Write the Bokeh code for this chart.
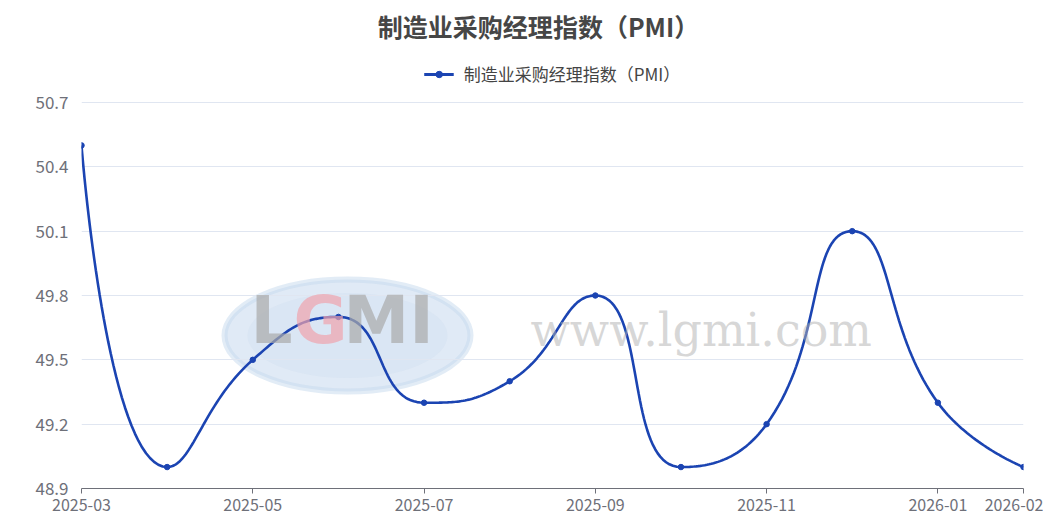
import math
from bokeh.plotting import figure
from bokeh.models import (Legend, LegendItem, FixedTicker, Range1d, Label,
                          ColumnDataSource)
from bokeh.embed import file_html
from bokeh.resources import INLINE

months = ["2025-03", "2025-04", "2025-05", "2025-06", "2025-07", "2025-08",
          "2025-09", "2025-10", "2025-11", "2025-12", "2026-01", "2026-02"]
pmi = [50.5, 49.0, 49.5, 49.7, 49.3, 49.4, 49.8, 49.0, 49.2, 50.1, 49.3, 49.0]
y_ticks = [48.9, 49.2, 49.5, 49.8, 50.1, 50.4, 50.7]
x_tick_idx = [0, 2, 4, 6, 8, 10, 11]
series_name = "制造业采购经理指数（PMI）"
title_text = "制造业采购经理指数（PMI）"

LINE = "#1b44b2"
FONT = "Noto Sans CJK SC"

W, H = 1043, 520
B_LEFT, B_RIGHT, B_BOTTOM = 81, 20, 32
TOP_GAP = 102  # pixels between canvas top and the 50.7 grid line
y0, y1 = 48.9, 50.7
frame_h = H - B_BOTTOM
r = TOP_GAP / frame_h
y_end = (y1 - r * y0) / (1 - r)

p = figure(width=W, height=H, output_backend="svg", toolbar_location=None,
           x_range=Range1d(0, len(months) - 1), y_range=Range1d(y0, y_end),
           min_border_left=B_LEFT, min_border_right=B_RIGHT, min_border_top=0,
           min_border_bottom=B_BOTTOM)
p.outline_line_color = None
p.background_fill_color = "white"

plot_w = W - B_LEFT - B_RIGHT
sx = plot_w / (len(months) - 1)
sy = frame_h / (y_end - y0)


def dx(px_):  # page pixel x -> data x
    return (px_ - B_LEFT) / sx


def dy(py_):  # page pixel y -> data y
    return y1 - (py_ - TOP_GAP) / sy


# ---- smooth curve (ECharts-like bezier smoothing, in pixel space) ----
xs = [i * sx for i in range(len(pmi))]
ys = [v * sy for v in pmi]
smooth = 0.5
cp0, cp1 = [], []
n = len(xs)
for i in range(n):
    x, y = xs[i], ys[i]
    if 0 < i < n - 1:
        px, py = xs[i - 1], ys[i - 1]
        nx, ny = xs[i + 1], ys[i + 1]
        vx = (nx - px) * smooth
        vy = (ny - py) * smooth
        lp = math.hypot(x - px, y - py)
        ln = math.hypot(nx - x, ny - y)
        rr = ln / (ln + lp)
        c1x = x + vx * rr
        c1y = y + vy * rr
        c1x = min(c1x, max(nx, x)); c1x = max(c1x, min(nx, x))
        c1y = min(c1y, max(ny, y)); c1y = max(c1y, min(ny, y))
        vx = c1x - x; vy = c1y - y
        c0x = x - vx * lp / ln
        c0y = y - vy * lp / ln
        c0x = min(c0x, max(px, x)); c0x = max(c0x, min(px, x))
        c0y = min(c0y, max(py, y)); c0y = max(c0y, min(py, y))
        vx = x - c0x; vy = y - c0y
        c1x = x + vx * ln / lp
        c1y = y + vy * ln / lp
        cp0.append((c0x, c0y)); cp1.append((c1x, c1y))
    else:
        cp0.append((x, y)); cp1.append((x, y))

bx, by = [], []
for i in range(n - 1):
    xa, ya = xs[i], ys[i]
    ax, ay = cp1[i]
    cx, cy = cp0[i + 1]
    xb, yb = xs[i + 1], ys[i + 1]
    steps = 40
    for k in range(steps + (1 if i == n - 2 else 0)):
        t = k / steps
        mt = 1 - t
        X = mt**3 * xa + 3 * mt**2 * t * ax + 3 * mt * t**2 * cx + t**3 * xb
        Y = mt**3 * ya + 3 * mt**2 * t * ay + 3 * mt * t**2 * cy + t**3 * yb
        bx.append(X / sx); by.append(Y / sy)

# ---- watermark (logo + site) ----
p.ellipse(x=[dx(347)], y=[dy(335)], width=246, height=112, width_units="screen",
          height_units="screen", fill_color="#c6d9ee", fill_alpha=0.55,
          line_color="#c6d9ee", line_alpha=0.5, line_width=6, level="underlay")
p.ellipse(x=[dx(347)], y=[dy(335)], width=200, height=85, width_units="screen",
          height_units="screen", fill_color="#d3e2f2", fill_alpha=0.5,
          line_color=None, level="underlay")
p.add_layout(Label(x=dx(250), y=dy(358), text="L", text_font="DejaVu Sans",
                   text_font_size="66px", text_font_style="bold",
                   text_color="#a9a9a9", text_alpha=0.7))
p.add_layout(Label(x=dx(293), y=dy(358), text="G", text_font="DejaVu Sans",
                   text_font_size="66px", text_font_style="bold",
                   text_color="#f0a3ad", text_alpha=0.7))
p.add_layout(Label(x=dx(343), y=dy(358), text="MI", text_font="DejaVu Sans",
                   text_font_size="66px", text_font_style="bold",
                   text_color="#a9a9a9", text_alpha=0.7))
p.add_layout(Label(x=dx(530), y=dy(356), text="www.lgmi.com", text_font="DejaVu Serif",
                   text_font_size="46px", text_color="#b0b0b0", text_alpha=0.5))

line = p.line(bx, by, line_color=LINE, line_width=2.6)
src = ColumnDataSource(dict(x=list(range(n)), y=pmi))
pts = p.scatter("x", "y", source=src, size=5.5, fill_color=LINE, line_color=LINE)
# legend-only proxies (NaN positions, never drawn in the plot area)
nan = float("nan")
legend_pt = p.scatter(x=[nan], y=[nan], size=12, fill_color=LINE, line_color=LINE)
legend_ln = p.line(x=[nan, nan], y=[nan, nan], line_color=LINE, line_width=3)

# ---- axes ----
p.xgrid.grid_line_color = None
p.ygrid.grid_line_color = "#e0e6f1"
p.ygrid.grid_line_width = 1
p.yaxis.ticker = FixedTicker(ticks=y_ticks)
p.yaxis.axis_line_color = None
p.yaxis.major_tick_line_color = None
p.yaxis.minor_tick_line_color = None
p.yaxis.major_label_text_font = FONT
p.yaxis.major_label_text_font_size = "17px"
p.yaxis.major_label_text_color = "#6e7079"
p.yaxis.major_label_standoff = 7
p.yaxis.major_label_overrides = {v: f"{v:.1f}" for v in y_ticks}

p.xaxis.ticker = FixedTicker(ticks=x_tick_idx)
p.xaxis.major_label_overrides = {i: months[i] for i in x_tick_idx}
p.xaxis.axis_line_color = "#6e7079"
p.xaxis.axis_line_width = 1
p.xaxis.major_tick_line_color = "#6e7079"
p.xaxis.major_tick_in = 0
p.xaxis.major_tick_out = 5
p.xaxis.minor_tick_line_color = None
p.xaxis.major_label_text_font = FONT
p.xaxis.major_label_text_font_size = "16px"
p.xaxis.major_label_text_color = "#6e7079"
p.xaxis.major_label_standoff = 5

# ---- legend & title (inside the top band of the frame) ----
legend = Legend(items=[LegendItem(label=series_name, renderers=[legend_ln, legend_pt])],
                orientation="horizontal", location="top_center",
                border_line_color=None, background_fill_alpha=0,
                label_text_font=FONT, label_text_font_size="17px",
                label_text_color="#444444", glyph_width=30, glyph_height=16,
                margin=61, padding=0, label_standoff=10)
p.add_layout(legend, "center")

p.add_layout(Label(x=dx(538), y=dy(25), text=title_text, text_align="center",
                   text_baseline="middle", text_font=FONT,
                   text_font_size="25px", text_font_style="bold",
                   text_color="#464646"))

open("out.html", "w").write(file_html(p, INLINE))
